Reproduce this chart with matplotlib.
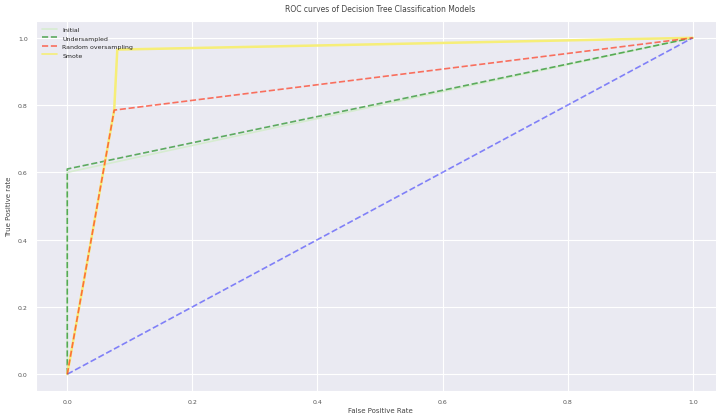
import matplotlib
matplotlib.use("Agg")
import matplotlib.pyplot as plt
import seaborn as sns

sns.set_style("darkgrid")

# ROC points
fpr_initial = [0.0, 0.0, 1.0]
tpr_initial = [0.0, 0.6, 1.0]
fpr_under = [0.0, 0.0, 1.0]
tpr_under = [0.0, 0.61, 1.0]
fpr_random = [0.0, 0.075, 1.0]
tpr_random = [0.0, 0.785, 1.0]
fpr_smote = [0.0, 0.075, 0.08, 1.0]
tpr_smote = [0.0, 0.785, 0.965, 1.0]
baseline = [0.0, 1.0]

labels = ["Initial", "Undersampled", "Random oversampling", "Smote"]

fig = plt.figure(figsize=(7.16, 4.14), dpi=100)
ax = fig.add_axes([36/716, 1 - 392/414, (724 - 36)/716, (392 - 22)/414])

ax.plot(fpr_initial, tpr_initial, color="#d6ecd0", lw=1.2, label=labels[0])
ax.plot(fpr_under, tpr_under, color="green", ls="--", lw=1.2, alpha=0.6, label=labels[1])
ax.plot(fpr_smote, tpr_smote, color="#f6ee78", lw=1.8, zorder=2)
ax.plot(fpr_random, tpr_random, color="#ff3b1f", ls="--", lw=1.2, alpha=0.7, label=labels[2], zorder=3)
ax.plot([], [], color="#f6ee78", lw=1.2, label=labels[3])
ax.plot(baseline, baseline, color="blue", ls="--", lw=1.2, alpha=0.45)

ax.set_xlim(-0.05, 1.05)
ax.set_ylim(-0.05, 1.05)
ax.tick_params(labelsize=4.5, colors="#555555", length=0, pad=6)
ax.set_title("ROC curves of Decision Tree Classification Models", fontsize=5.5, color="#444444", pad=7)
ax.set_xlabel("False Positive Rate", fontsize=5, color="#444444", labelpad=2)
ax.set_ylabel("True Positive rate", fontsize=5, color="#444444", labelpad=4)
ax.legend(loc="upper left", fontsize=4.5, frameon=False, handlelength=2.5)

fig.savefig("out.png", dpi=100)
